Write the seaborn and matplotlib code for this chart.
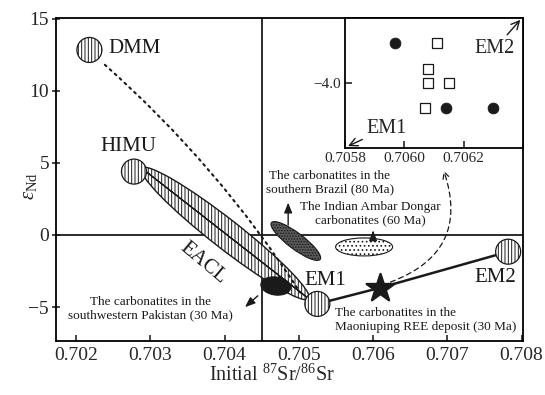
import matplotlib
matplotlib.use("Agg")
import matplotlib.pyplot as plt
import matplotlib.transforms as mtransforms
from matplotlib.patches import Ellipse
from matplotlib.ticker import FixedLocator, FormatStrFormatter, FuncFormatter
import seaborn as sns

# mantle end-members (Initial 87Sr/86Sr, eNd)
em_names = ["DMM", "HIMU", "EM1", "EM2"]
em_sr = [0.70218, 0.70278, 0.70525, 0.70782]
em_nd = [12.82, 4.39, -4.78, -1.16]

# Maoniuping REE deposit (mean)
mnp_sr = [0.70609]
mnp_nd = [-3.67]

# carbonatite fields / EACL (centres)
field_names = ["EACL", "Brazil", "Ambar Dongar", "Pakistan"]
field_sr = [0.70401, 0.70496, 0.70588, 0.70469]
field_nd = [0.10, -0.42, -0.83, -3.54]

# DMM - EM1 mixing curve ends
mix_sr = [0.70236, 0.70504]
mix_nd = [11.92, -4.16]

# dashed pointer to the inset
ptr_sr = [0.70620, 0.70694]
ptr_nd = [-3.33, 4.64]

# inset samples
ins_dot_sr = [0.70597, 0.70614, 0.70630]
ins_dot_nd = [-3.80, -4.13, -4.13]
ins_sq_sr = [0.70611, 0.70608, 0.70608, 0.70615, 0.70607]
ins_sq_nd = [-3.80, -3.93, -4.00, -4.00, -4.13]

x_ticks = [0.702, 0.703, 0.704, 0.705, 0.706, 0.707, 0.708]
y_ticks = [-5, 0, 5, 10, 15]
ins_x_ticks = [0.7058, 0.7060, 0.7062]
ins_y_ticks = [-4.0]

sns.set_theme(style="ticks")
plt.rcParams["font.family"] = ["Liberation Serif", "DejaVu Serif"]
plt.rcParams["mathtext.fontset"] = "custom"
plt.rcParams["mathtext.rm"] = "Liberation Serif"
plt.rcParams["mathtext.it"] = "Liberation Serif:italic"
plt.rcParams["hatch.linewidth"] = 0.7
plt.rcParams["axes.edgecolor"] = "black"
plt.rcParams["axes.linewidth"] = 1.3

fig = plt.figure(figsize=(5.45, 3.95), dpi=100)
ax = fig.add_axes([56 / 545, 1 - 341 / 395, 467 / 545, 323.5 / 395])


def blob(x, y, w, h, angle=0, **kw):
    # ellipse sized in inches, anchored on a data point
    tr = fig.dpi_scale_trans + mtransforms.ScaledTranslation(x, y, ax.transData)
    e = Ellipse((0, 0), w, h, angle=angle, transform=tr, **kw)
    ax.add_patch(e)
    return e


ax.axhline(0, color="k", lw=1.3, zorder=1)
ax.axvline(0.7045, color="k", lw=1.3, zorder=1)

# DMM-EM1 mixing (dotted)
ax.annotate("", xy=(mix_sr[1], mix_nd[1]), xytext=(mix_sr[0], mix_nd[0]),
            arrowprops=dict(arrowstyle="-", linestyle=(0, (1, 2.2)), lw=1.5,
                            color="k", connectionstyle="arc3,rad=-0.07"))

# EACL band
blob(field_sr[0], field_nd[0], 2.12, 0.29, angle=-38, facecolor="white",
     edgecolor="k", hatch="|||||", lw=1.0, zorder=2)
blob(field_sr[0], field_nd[0], 2.12, 0.0, angle=-38, facecolor="none",
     edgecolor="k", lw=0.9, zorder=2)
# Brazil
blob(field_sr[1], field_nd[1], 0.61, 0.16, angle=-37, facecolor="0.35",
     edgecolor="k", hatch="......", lw=0.8, zorder=3)
# Ambar Dongar
blob(field_sr[2], field_nd[2], 0.57, 0.18, angle=0, facecolor="white",
     edgecolor="k", hatch="....", lw=0.8, zorder=3)
# Pakistan
blob(field_sr[3], field_nd[3], 0.30, 0.18, angle=-8, facecolor="k",
     edgecolor="k", lw=0.8, zorder=4)

# EM1 - Maoniuping - EM2 line
sns.lineplot(x=[em_sr[2], mnp_sr[0], em_sr[3]], y=[em_nd[2], mnp_nd[0], em_nd[3]],
             sort=False, color="k", lw=1.8, ax=ax, zorder=4)

# end-member circles
for sr, nd in zip(em_sr, em_nd):
    blob(sr, nd, 0.25, 0.25, facecolor="white", edgecolor="k",
         hatch="|||||", lw=0.9, zorder=5)

sns.scatterplot(x=mnp_sr, y=mnp_nd, marker="*", s=440, color="k",
                edgecolor="k", ax=ax, zorder=6)

# dashed pointer
ax.annotate("", xy=(ptr_sr[1], ptr_nd[1]), xytext=(ptr_sr[0], ptr_nd[0]),
            arrowprops=dict(arrowstyle="->", linestyle=(0, (4, 3)), lw=0.9,
                            color="k", connectionstyle="arc3,rad=0.5"))

# labels
lab_kw = dict(fontsize=15, color="k")
ax.text(em_sr[0] + 0.00025, em_nd[0] + 0.1, "DMM", ha="left", va="center", **lab_kw)
ax.text(em_sr[1] - 0.00008, em_nd[1] + 1.75, "HIMU", ha="center", va="center", **lab_kw)
ax.text(em_sr[2] + 0.0001, em_nd[2] + 1.6, "EM1", ha="center", va="center", **lab_kw)
ax.text(em_sr[3] - 0.00018, em_nd[3] - 1.8, "EM2", ha="center", va="center", **lab_kw)
ax.text(0.70371, -1.94, "EACL", rotation=-40, ha="center", va="center", **lab_kw)

note_kw = dict(fontsize=9.5, color="k", linespacing=1.15)
ax.text(0.705419, 3.6, "The carbonatites in the\nsouthern Brazil (80 Ma)",
        ha="center", va="center", **note_kw)
ax.text(0.70597, 1.46, "The Indian Ambar Dongar\ncarbonatites (60 Ma)",
        ha="center", va="center", **note_kw)
ax.text(0.703, -5.13, "The carbonatites in the\nsouthwestern Pakistan (30 Ma)",
        ha="center", va="center", **note_kw)
ax.text(0.70549, -5.89, "The carbonatites in the\nMaoniuping REE deposit (30 Ma)",
        ha="left", va="center", **note_kw)

arr = dict(arrowstyle="-|>,head_length=0.5,head_width=0.2", lw=1.0, color="k")
ax.annotate("", xy=(0.704857, 2.43), xytext=(0.704857, 0.49), arrowprops=arr)
ax.annotate("", xy=(0.706001, 0.50), xytext=(0.706001, -0.12), arrowprops=arr)
ax.annotate("", xy=(0.704248, -5.13), xytext=(0.704476, -4.09), arrowprops=arr)

ax.set_xlim(0.70173, 0.70802)
ax.set_ylim(-7.35, 15.07)
ax.xaxis.set_major_locator(FixedLocator(x_ticks))
ax.xaxis.set_major_formatter(FormatStrFormatter("%.3f"))
ax.yaxis.set_major_locator(FixedLocator(y_ticks))
ax.tick_params(axis="x", direction="in", length=4, width=1.2, labelsize=14, pad=4)
ax.tick_params(axis="y", direction="inout", length=6, width=1.2, labelsize=14, pad=2)
ax.set_xlabel(r"Initial $^{87}$Sr/$^{86}$Sr", fontsize=14.5)
ax.set_ylabel(r"$\varepsilon_{\mathrm{Nd}}$", fontsize=15)
ax.xaxis.set_label_coords(0.462, -0.072)
ax.yaxis.set_label_coords(-0.036, 0.48)
for s in ax.spines.values():
    s.set_visible(True)

# inset
axi = fig.add_axes([345 / 545, 1 - 148 / 395, 178 / 545, 130.5 / 395])
sns.scatterplot(x=ins_dot_sr, y=ins_dot_nd, marker="o", s=60, color="k",
                edgecolor="k", ax=axi)
sns.scatterplot(x=ins_sq_sr, y=ins_sq_nd, marker="s", s=45, color="white",
                edgecolor="k", linewidth=0.9, ax=axi)
axi.set_xlim(0.7058, 0.7064)
axi.set_ylim(-4.33, -3.67)
axi.xaxis.set_major_locator(FixedLocator(ins_x_ticks))
axi.xaxis.set_major_formatter(FormatStrFormatter("%.4f"))
axi.yaxis.set_major_locator(FixedLocator(ins_y_ticks))
axi.yaxis.set_major_formatter(FuncFormatter(lambda v, p: f"{v:.1f}".replace("-", "\u2212")))
axi.tick_params(direction="in", length=5, width=1.2, labelsize=11, pad=3)
for s in axi.spines.values():
    s.set_visible(True)
    s.set_linewidth(1.3)
ins_arr = dict(arrowstyle="->", lw=1.0, color="k", shrinkA=1, shrinkB=1)
axi.annotate("EM1", xy=(0.01, 0.01), xycoords="axes fraction",
             xytext=(0.236, 0.153), textcoords="axes fraction",
             ha="center", va="center", fontsize=14.5, arrowprops=ins_arr)
axi.annotate("EM2", xy=(0.99, 0.99), xycoords="axes fraction",
             xytext=(0.843, 0.762), textcoords="axes fraction",
             ha="center", va="center", fontsize=14.5, arrowprops=ins_arr)

fig.savefig("out.png", dpi=100)
